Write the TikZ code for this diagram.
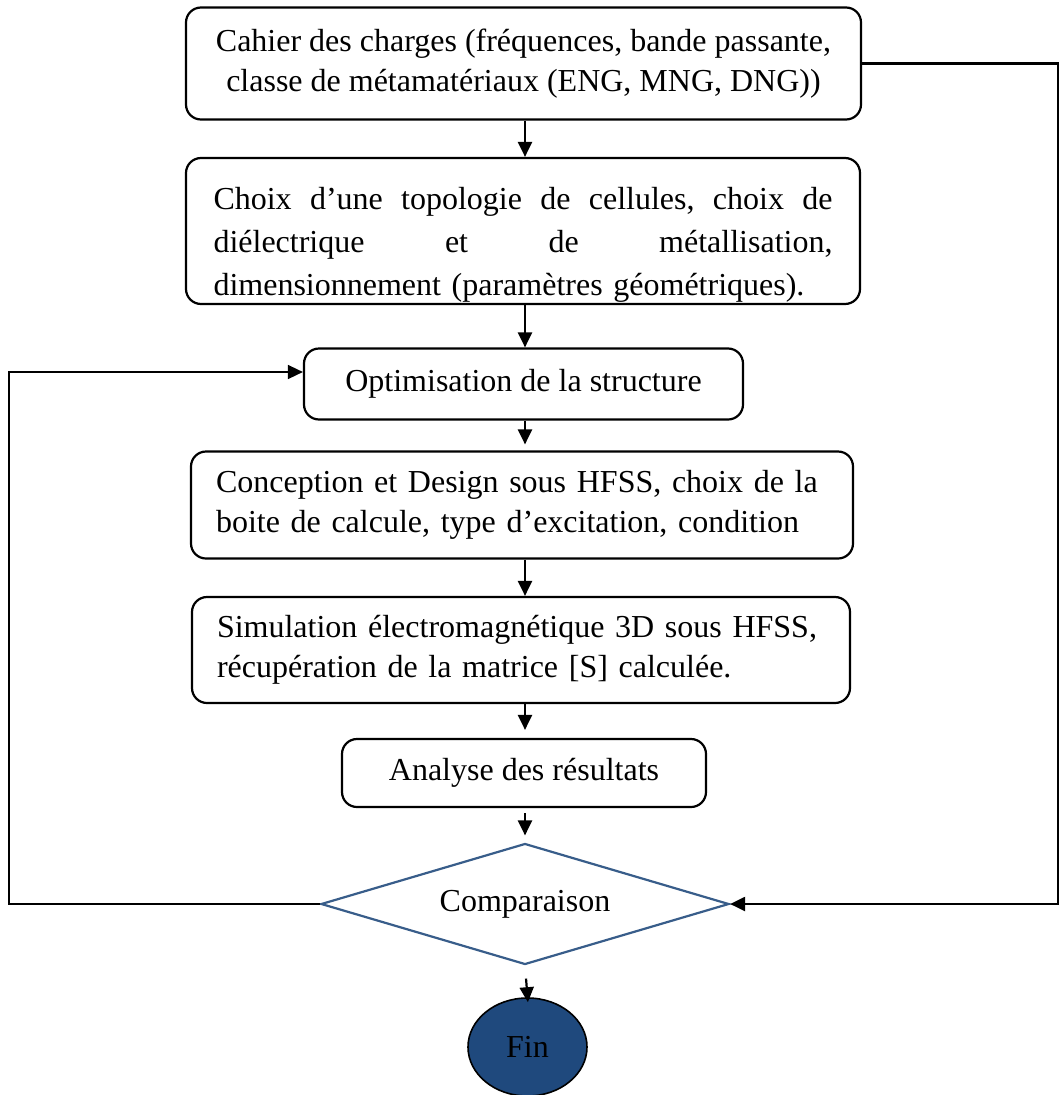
\documentclass[tikz,border=0pt]{standalone}
\usepackage{fontspec}
\setmainfont{Liberation Serif}
\usetikzlibrary{shapes.geometric,arrows.meta,calc}
\definecolor{dblue}{HTML}{385D8A}
\definecolor{fblue}{HTML}{1F497D}
\newcommand\jline[1]{\leavevmode\hbox to 619pt{#1}}
\begin{document}
\begin{tikzpicture}[x=1pt,y=-1pt,
  txt/.style={font=\fontsize{32}{40}\selectfont},
  box/.style={draw, line width=2.2pt, rounded corners=15pt, inner sep=0pt, txt},
  arr/.style={-{Triangle[length=15pt,width=14pt]}, line width=2.2pt}]
\useasboundingbox (0,0) rectangle (1059,1095);

\node[box, minimum width=675pt, minimum height=112pt, align=center] (b1) at (523.5,63.5)
  {Cahier des charges (fréquences, bande passante,\\classe de métamatériaux (ENG, MNG, DNG))};

\node[box, minimum width=674pt, minimum height=146pt, text width=619pt, align=left,
      font=\fontsize{32}{43}\selectfont] (b2) at (523,231)
  {\jline{\rule{0pt}{50pt}Choix\hfill d’une\hfill topologie\hfill de\hfill cellules,\hfill choix\hfill de}\\
   \jline{diélectrique\hfill et\hfill de\hfill métallisation,}\\
   dimensionnement (paramètres géométriques).};

\node[box, minimum width=439pt, minimum height=71pt] (b3) at (523.5,384)
  {Optimisation de la structure};

\node[box, minimum width=662pt, minimum height=107pt, text width=612pt, align=left] (b4) at (522,505)
  {Conception et Design sous HFSS, choix de la\\boite de calcule, type d’excitation, condition};

\node[box, minimum width=658pt, minimum height=106pt, text width=608pt, align=left] (b5) at (521,650)
  {Simulation électromagnétique 3D sous HFSS,\\récupération de la matrice [S] calculée.};

\node[box, minimum width=364pt, minimum height=68pt] (b6) at (524,773)
  {Analyse des résultats};

\node[diamond, aspect=3.37, draw=dblue, line width=2.2pt, minimum width=408pt, minimum height=121pt,
      inner sep=0pt, txt] (d) at (525,904) {Comparaison};

\node[ellipse, draw, fill=fblue, line width=1.6pt, minimum width=119pt, minimum height=98pt,
      inner sep=0pt, txt] (fin) at (527.5,1047) {Fin};

% vertical flow
\draw[arr] (b1.south -| d.north) -- (b2.north -| d.north);
\draw[arr] (b2.south -| d.north) -- (b3.north -| d.north);
\draw[arr, shorten >=6pt] (b3.south -| d.north) -- (b4.north -| d.north);
\draw[arr] (b4.south -| d.north) -- (b5.north -| d.north);
\draw[arr, shorten >=8pt] (b5.south -| d.north) -- (b6.north -| d.north);
\draw[arr, shorten <=5pt, shorten >=7pt] (b6.south -| d.north) -- (d.north);
\draw[arr, shorten <=13pt, shorten >=-5pt] (d.south) -- (fin.north);

% feedback loops
\coordinate (b3in) at ($(b3.west)+(0,-12)$);
\draw[arr, line width=1.6pt] (d.west) -- ++(-311,0) |- (b3in);
\draw[arr] (b1.east) -- ++(196,0) |- (d.east);
\end{tikzpicture}
\end{document}
